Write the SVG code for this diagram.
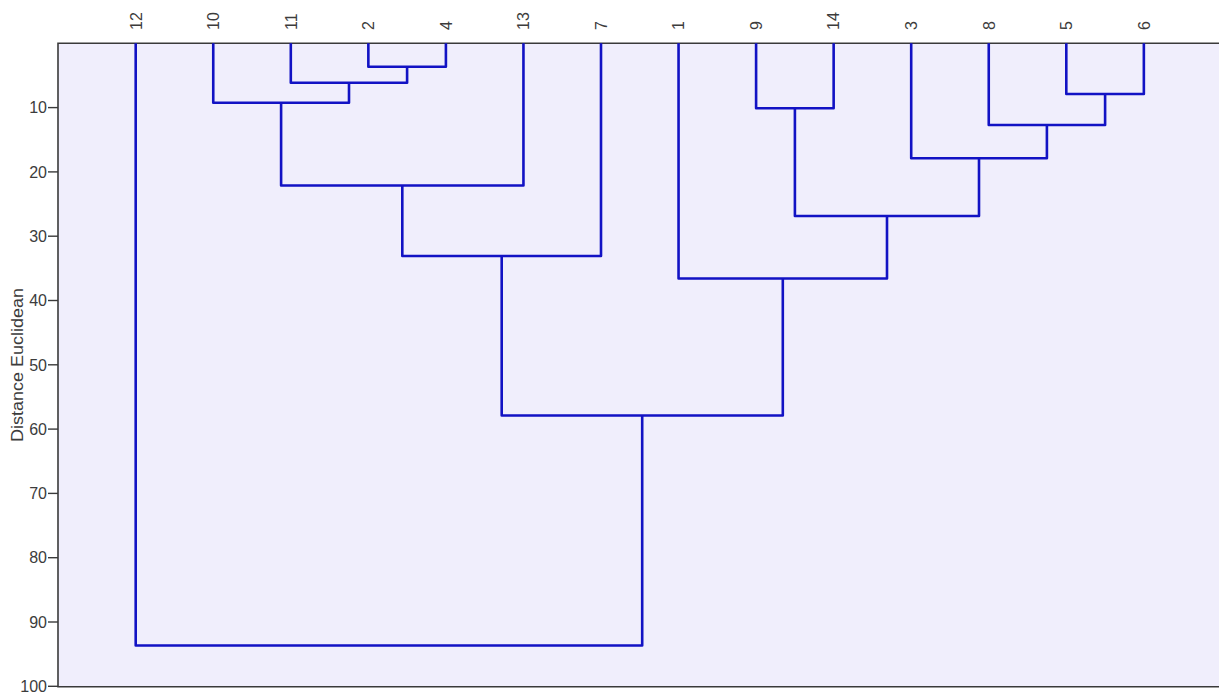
<svg xmlns="http://www.w3.org/2000/svg" width="1219" height="693" viewBox="0 0 1219 693">
<style>
.bg{fill:#f0eefc}
.ax{stroke:#3a3a3a;stroke-width:1.6;fill:none}
.tk{stroke:#3a3a3a;stroke-width:1.4}
.tl{font-family:"Liberation Sans",Arial,sans-serif;font-size:16px;fill:#3c3c3c;text-anchor:end}
.lf{font-family:"Liberation Sans",Arial,sans-serif;font-size:16px;fill:#3c3c3c;text-anchor:start}
.ti{font-family:"Liberation Sans",Arial,sans-serif;font-size:16px;fill:#3c3c3c;text-anchor:middle}
.br{stroke:#1212c4;stroke-width:2.6;fill:none;stroke-linejoin:round}
</style>
<rect width="1219" height="693" fill="#ffffff"/>
<rect class="bg" x="58" y="43" width="1161" height="644"/>
<g id="axes">
<path class="ax" d="M1219,43.3 H58 V686.7 H1219"/>
<g class="tk">
<line x1="48" y1="107.6" x2="58" y2="107.6"/>
<line x1="48" y1="171.9" x2="58" y2="171.9"/>
<line x1="48" y1="236.2" x2="58" y2="236.2"/>
<line x1="48" y1="300.5" x2="58" y2="300.5"/>
<line x1="48" y1="364.8" x2="58" y2="364.8"/>
<line x1="48" y1="429.1" x2="58" y2="429.1"/>
<line x1="48" y1="493.4" x2="58" y2="493.4"/>
<line x1="48" y1="557.7" x2="58" y2="557.7"/>
<line x1="48" y1="622.0" x2="58" y2="622.0"/>
<line x1="48" y1="686.3" x2="58" y2="686.3"/>
</g>
<text class="tl" x="47" y="113.3">10</text>
<text class="tl" x="47" y="177.6">20</text>
<text class="tl" x="47" y="241.9">30</text>
<text class="tl" x="47" y="306.2">40</text>
<text class="tl" x="47" y="370.5">50</text>
<text class="tl" x="47" y="434.8">60</text>
<text class="tl" x="47" y="499.1">70</text>
<text class="tl" x="47" y="563.4">80</text>
<text class="tl" x="47" y="627.7">90</text>
<text class="tl" x="47" y="692.0">100</text>
<text class="ti" transform="translate(23,365) rotate(-90)" textLength="154" lengthAdjust="spacingAndGlyphs">Distance Euclidean</text>
</g>
<g id="leaf-labels">
<text class="lf" transform="translate(141.5,30) rotate(-90)">12</text>
<text class="lf" transform="translate(219,30) rotate(-90)">10</text>
<text class="lf" transform="translate(296.6,30) rotate(-90)">11</text>
<text class="lf" transform="translate(374.1,30) rotate(-90)">2</text>
<text class="lf" transform="translate(451.7,30) rotate(-90)">4</text>
<text class="lf" transform="translate(529.2,30) rotate(-90)">13</text>
<text class="lf" transform="translate(606.8,30) rotate(-90)">7</text>
<text class="lf" transform="translate(684.3,30) rotate(-90)">1</text>
<text class="lf" transform="translate(761.9,30) rotate(-90)">9</text>
<text class="lf" transform="translate(839.4,30) rotate(-90)">14</text>
<text class="lf" transform="translate(917,30) rotate(-90)">3</text>
<text class="lf" transform="translate(994.5,30) rotate(-90)">8</text>
<text class="lf" transform="translate(1072.1,30) rotate(-90)">5</text>
<text class="lf" transform="translate(1149.6,30) rotate(-90)">6</text>
</g>
<g id="connectors" class="br">
<path id="m-2-4" d="M368.35,43.3 V66.7 H445.9 V43.3"/>
<path id="m-11" d="M290.8,43.3 V82.7 H407.1 V66.7"/>
<path id="m-10" d="M213.25,43.3 V102.7 H349 V82.7"/>
<path id="m-13" d="M281.1,102.7 V185.5 H523.45 V43.3"/>
<path id="m-7" d="M402.3,185.5 V256 H601 V43.3"/>
<path id="m-9-14" d="M756.1,43.3 V108.3 H833.65 V43.3"/>
<path id="m-5-6" d="M1066.3,43.3 V94 H1143.85 V43.3"/>
<path id="m-8" d="M988.75,43.3 V125 H1105.1 V94"/>
<path id="m-3" d="M911.2,43.3 V158.3 H1046.9 V125"/>
<path id="m-9g" d="M794.9,108.3 V216 H979 V158.3"/>
<path id="m-1" d="M678.55,43.3 V278.5 H887 V216"/>
<path id="m-lr" d="M501.7,256 V415.5 H782.8 V278.5"/>
<path id="m-root" d="M135.7,43.3 V645.5 H642.2 V415.5"/>
</g>
</svg>
